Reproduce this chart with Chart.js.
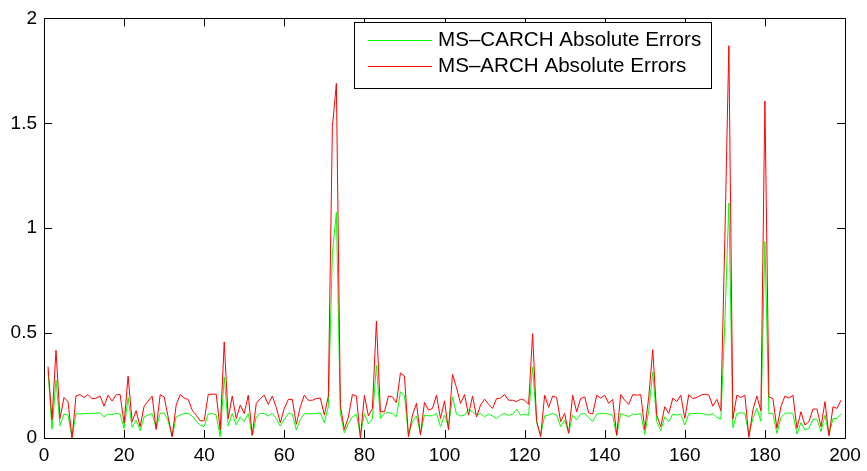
<!DOCTYPE html>
<html>
<head>
<meta charset="utf-8">
<script src="https://cdn.jsdelivr.net/npm/chart.js@4/dist/chart.umd.min.js"></script>
<style>
    html, body { margin: 0; padding: 0; background: #fff; }
    #wrap { width: 867px; height: 471px; }
</style>
</head>
<body>
<div id="wrap"><canvas id="errChart" width="867" height="471"></canvas></div>
<script>
// Series names, as in the legend
const seriesNames = ['MS\u2013CARCH Absolute Errors', 'MS\u2013ARCH Absolute Errors'];

const carchErrors = [
    0.32, 0.041, 0.276, 0.059, 0.114, 0.109, 0.002, 0.117, 0.114, 0.116,
    0.117, 0.117, 0.119, 0.119, 0.101, 0.114, 0.111, 0.117, 0.114, 0.046,
    0.193, 0.051, 0.086, 0.035, 0.101, 0.109, 0.117, 0.046, 0.117, 0.12,
    0.082, 0.006, 0.101, 0.109, 0.117, 0.117, 0.105, 0.081, 0.062, 0.054,
    0.114, 0.117, 0.109, 0.006, 0.291, 0.057, 0.117, 0.062, 0.101, 0.078,
    0.117, 0.01, 0.101, 0.117, 0.117, 0.105, 0.117, 0.093, 0.057, 0.089,
    0.117, 0.114, 0.038, 0.089, 0.117, 0.114, 0.116, 0.117, 0.12, 0.073,
    0.15, 0.88, 1.075, 0.117, 0.024, 0.07, 0.101, 0.112, 0.014, 0.117,
    0.067, 0.093, 0.347, 0.093, 0.117, 0.122, 0.117, 0.101, 0.22, 0.204,
    0.014, 0.078, 0.105, 0.02, 0.109, 0.106, 0.106, 0.117, 0.054, 0.109,
    0.054, 0.196, 0.114, 0.105, 0.109, 0.136, 0.125, 0.109, 0.117, 0.101,
    0.114, 0.105, 0.093, 0.109, 0.117, 0.109, 0.112, 0.136, 0.109, 0.114,
    0.109, 0.339, 0.073, 0.014, 0.105, 0.109, 0.117, 0.109, 0.054, 0.086,
    0.025, 0.109, 0.086, 0.114, 0.117, 0.098, 0.078, 0.114, 0.117, 0.117,
    0.114, 0.109, 0.01, 0.117, 0.109, 0.101, 0.114, 0.112, 0.117, 0.017,
    0.13, 0.315, 0.078, 0.035, 0.101, 0.078, 0.114, 0.109, 0.114, 0.062,
    0.114, 0.117, 0.117, 0.117, 0.114, 0.109, 0.117, 0.098, 0.09, 0.55,
    1.12, 0.048, 0.117, 0.12, 0.117, 0.014, 0.093, 0.141, 0.08, 0.936,
    0.117, 0.117, 0.022, 0.098, 0.117, 0.12, 0.117, 0.019, 0.074, 0.038,
    0.046, 0.089, 0.089, 0.03, 0.109, 0.014, 0.093, 0.093, 0.114
];

const archErrors = [
    0.34, 0.086, 0.418, 0.093, 0.193, 0.173, 0.0, 0.201, 0.207, 0.193,
    0.207, 0.187, 0.19, 0.2, 0.152, 0.204, 0.176, 0.206, 0.207, 0.07,
    0.295, 0.078, 0.13, 0.054, 0.152, 0.176, 0.2, 0.041, 0.206, 0.196,
    0.1, 0.006, 0.157, 0.207, 0.19, 0.184, 0.133, 0.109, 0.082, 0.082,
    0.207, 0.209, 0.209, 0.038, 0.458, 0.093, 0.2, 0.093, 0.157, 0.117,
    0.204, 0.014, 0.165, 0.188, 0.204, 0.16, 0.2, 0.146, 0.073, 0.141,
    0.184, 0.184, 0.065, 0.149, 0.204, 0.18, 0.18, 0.188, 0.19, 0.109,
    0.2, 1.48, 1.69, 0.155, 0.04, 0.1, 0.207, 0.2, 0.0, 0.204,
    0.105, 0.141, 0.557, 0.125, 0.125, 0.2, 0.196, 0.168, 0.31, 0.295,
    0.006, 0.109, 0.165, 0.014, 0.17, 0.133, 0.141, 0.204, 0.093, 0.177,
    0.038, 0.304, 0.24, 0.165, 0.207, 0.109, 0.2, 0.1, 0.157, 0.185,
    0.161, 0.141, 0.188, 0.19, 0.207, 0.18, 0.18, 0.173, 0.185, 0.18,
    0.161, 0.497, 0.082, 0.006, 0.204, 0.146, 0.2, 0.193, 0.078, 0.117,
    0.022, 0.204, 0.125, 0.188, 0.196, 0.12, 0.114, 0.204, 0.19, 0.204,
    0.165, 0.184, 0.014, 0.207, 0.18, 0.16, 0.207, 0.204, 0.207, 0.041,
    0.196, 0.421, 0.109, 0.054, 0.149, 0.117, 0.19, 0.173, 0.204, 0.093,
    0.207, 0.188, 0.193, 0.204, 0.209, 0.204, 0.152, 0.184, 0.13, 0.95,
    1.87, 0.09, 0.204, 0.193, 0.204, 0.003, 0.133, 0.2, 0.13, 1.606,
    0.196, 0.188, 0.046, 0.149, 0.2, 0.19, 0.204, 0.046, 0.125, 0.062,
    0.078, 0.138, 0.138, 0.054, 0.173, 0.01, 0.149, 0.141, 0.18
];

// Observation numbers on the x axis
const observations = carchErrors.map((_, k) => k + 1);

// Axis ticks
const xTicks = [0, 20, 40, 60, 80, 100, 120, 140, 160, 180, 200];
const yTicks = [0, 0.5, 1, 1.5, 2];

const fontFamily = '"Liberation Sans", Arial, Helvetica, sans-serif';
const lineColors = ['#00ff00', '#ff0000'];

// Pair each observation number with its value
function toPoints(values) {
    return values.map((v, k) => ({ x: observations[k], y: v }));
}

// Draw the MATLAB style box with inward ticks, then the legend
const boxPlugin = {
    id: 'matlabBox',
    afterDraw(chart) {
        const ctx = chart.ctx;
        const area = chart.chartArea;
        const xs = chart.scales.x;
        const ys = chart.scales.y;
        const tick = 8;

        ctx.save();
        ctx.strokeStyle = '#000';
        ctx.lineWidth = 1;
        ctx.beginPath();
        ctx.rect(Math.round(area.left) + 0.5, Math.round(area.top) + 0.5,
            Math.round(area.right - area.left), Math.round(area.bottom - area.top));
        ctx.stroke();

        ctx.beginPath();
        xTicks.forEach((v) => {
            const px = Math.round(xs.getPixelForValue(v)) + 0.5;
            ctx.moveTo(px, area.bottom);
            ctx.lineTo(px, area.bottom - tick);
            ctx.moveTo(px, area.top);
            ctx.lineTo(px, area.top + tick);
        });
        yTicks.forEach((v) => {
            const py = Math.round(ys.getPixelForValue(v)) + 0.5;
            ctx.moveTo(area.left, py);
            ctx.lineTo(area.left + tick, py);
            ctx.moveTo(area.right, py);
            ctx.lineTo(area.right - tick, py);
        });
        ctx.stroke();

        // Legend box
        const lx = 354, ly = 22, lw = 357, lh = 66;
        ctx.fillStyle = '#fff';
        ctx.fillRect(lx, ly, lw, lh);
        ctx.strokeRect(lx + 0.5, ly + 0.5, lw, lh);

        ctx.font = '20.6px ' + fontFamily;
        ctx.textBaseline = 'middle';
        ctx.textAlign = 'left';
        seriesNames.forEach((name, k) => {
            const cy = ly + 18.5 + k * 26;
            ctx.strokeStyle = lineColors[k];
            ctx.beginPath();
            ctx.moveTo(368, cy);
            ctx.lineTo(432, cy);
            ctx.stroke();
            ctx.fillStyle = '#000';
            ctx.fillText(name, 438, cy);
        });
        ctx.restore();
    }
};

const ctx = document.getElementById('errChart').getContext('2d');
const errChart = new Chart(ctx, {
    type: 'line',
    data: {
        datasets: [{
            label: seriesNames[0],
            data: toPoints(carchErrors),
            borderColor: lineColors[0],
            borderWidth: 1,
            pointRadius: 0,
            tension: 0,
            order: 2,
        }, {
            label: seriesNames[1],
            data: toPoints(archErrors),
            borderColor: lineColors[1],
            borderWidth: 1,
            pointRadius: 0,
            tension: 0,
            order: 1,
        }],
    },
    options: {
        responsive: false,
        animation: false,
        layout: {
            padding: { top: 17, right: 22, left: 0, bottom: 0 },
        },
        plugins: {
            legend: { display: false },
            tooltip: { enabled: false },
        },
        scales: {
            x: {
                type: 'linear',
                min: 0,
                max: 200,
                grid: { display: false, drawTicks: false },
                border: { display: false },
                afterBuildTicks: (scale) => { scale.ticks = xTicks.map((v) => ({ value: v })); },
                afterFit: (scale) => { scale.height = 33; },
                ticks: {
                    color: '#000',
                    padding: 6,
                    maxRotation: 0,
                    font: { family: fontFamily, size: 19 },
                },
            },
            y: {
                min: 0,
                max: 2,
                grid: { display: false, drawTicks: false },
                border: { display: false },
                afterBuildTicks: (scale) => { scale.ticks = yTicks.map((v) => ({ value: v })); },
                afterFit: (scale) => { scale.width = 44; },
                ticks: {
                    color: '#000',
                    padding: 7,
                    font: { family: fontFamily, size: 19 },
                    callback: (v) => String(v),
                },
            },
        },
    },
    plugins: [boxPlugin],
});
</script>
</body>
</html>
